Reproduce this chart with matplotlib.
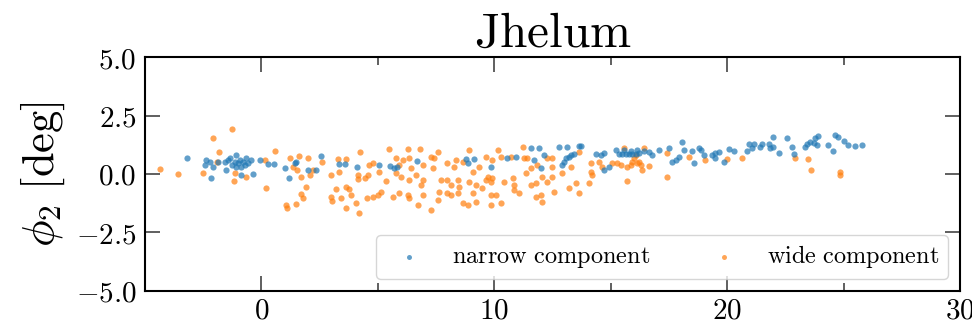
import matplotlib
matplotlib.use("Agg")
import matplotlib.pyplot as plt
from matplotlib.ticker import MultipleLocator

plt.rcParams['mathtext.fontset'] = 'cm'

narrow_x = [-3.21, -2.36, -2.43, -2.21, -2.07, -2.14, -1.86, -1.57, -1.43, -1.50, -1.36, -1.28, -1.14,
            -1.07, -1.07, -1.00, -0.93, -0.86, -0.78, -0.71, -0.64, -0.57, -0.43, -0.36, -0.86, -0.07,
            0.29, 0.54, 1.03, 1.17, 1.43, 1.50, 2.00, 2.36, 2.54, 3.35, 3.57, 4.11, 5.07,
            5.52, 5.71, 5.81, 6.67, 8.78, 8.85, 9.14, 9.85,
            10.56, 10.92, 11.56, 11.92, 11.71, 12.13, 11.99, 12.78, 13.13, 13.63, 12.92, 12.99, 13.20,
            13.28, 13.42, 13.06, 13.70, 14.35, 14.70, 14.56, 14.70, 14.92,
            15.21, 15.35, 15.49, 15.64, 15.78, 15.92, 16.06, 16.21, 15.56, 15.85, 16.14, 16.42,
            16.64, 16.78, 17.06, 17.49, 17.63, 17.78, 17.92, 18.06, 18.13, 18.49, 18.56, 18.78, 18.85,
            18.99, 19.35, 19.49, 19.63, 19.49, 19.85,
            20.06, 20.27, 20.91, 20.84, 21.06, 21.13, 21.41, 21.48, 21.77, 21.84, 21.98, 21.98, 22.20,
            22.56, 22.77, 22.84, 23.34, 23.41, 23.55, 23.70, 23.77, 23.91, 23.84, 24.34, 24.55, 24.62,
            24.77, 24.99, 25.17, 25.46, 25.80]
narrow_y = [0.67, 0.60, 0.38, 0.53, 0.31, -0.18, 0.53, 0.53, 0.60, 0.17, 0.67, 0.38, 0.53,
            0.81, 0.31, 0.46, 0.60, 0.31, 0.53, 0.38, 0.67, 0.46, 0.60, -0.01, -0.04, 0.60,
            0.41, 0.41, 0.24, -0.16, 0.46, 0.53, 0.17, 0.17, 0.78, 0.41, 0.41, 0.29, 0.38,
            0.36, 0.27, 0.31, 0.56, 0.64, 0.46, 0.63, 0.31,
            0.67, 0.74, 1.10, 1.10, 0.60, 0.81, 0.24, 1.17, 1.17, 1.21, 0.38, 0.53, 0.74,
            0.81, 0.84, 0.67, 1.21, 0.84, 0.88, 0.81, 0.17, 0.31,
            1.03, 0.84, 0.84, 0.84, 0.84, 0.84, 0.84, 0.88, 1.03, 0.98, 1.03, 0.98,
            0.95, 0.81, 1.03, 1.12, 0.53, 0.60, 0.74, 1.35, 1.03, 0.98, 0.46, 1.12, 1.03,
            0.81, 0.81, 0.88, 0.95, 0.67, 0.53,
            1.07, 0.98, 1.27, 0.98, 1.10, 1.27, 1.17, 1.27, 1.27, 1.10, 1.59, 1.17, 0.88,
            1.52, 1.17, 0.84, 1.17, 1.27, 1.38, 1.31, 1.52, 1.64, 1.24, 1.24, 0.98, 1.67,
            1.59, 1.41, 1.24, 1.20, 1.24]

wide_x = [-4.33, -3.57, -2.50, -2.07, -1.81, -1.90, -1.24, -1.14, -1.19, -0.64, 0.14, 0.21,
          0.60, 1.21, 1.36, 1.60, 2.00, 1.54, 1.71, 2.07, 2.21, 2.60, 1.93, 1.71, 1.78, 1.07, 1.11,
          1.50, 2.97, 3.28, 3.35, 3.64, 3.21, 3.40, 3.00, 3.03, 3.64, 3.85, 3.78, 3.64, 4.07, 4.21,
          4.25, 4.14, 4.14, 4.43, 4.57, 4.64, 4.78, 4.54, 4.78, 5.00, 5.14, 5.07,
          5.47, 6.28, 6.81, 7.57, 5.78, 5.92, 6.07, 6.35, 6.42, 6.92, 7.28, 7.42, 7.35, 5.35, 5.78,
          5.99, 6.35, 6.64, 6.92, 6.85, 5.64, 5.92, 6.28, 6.35, 6.71, 6.92, 7.28, 7.57, 7.64, 7.71,
          7.99, 8.14, 8.42, 8.49, 8.42, 7.99, 8.35, 8.28, 8.92, 8.64, 9.07, 9.35, 9.64, 9.71, 8.92,
          9.21, 9.49, 9.64, 9.92, 8.64, 8.85, 9.21, 9.85, 9.07, 7.99, 8.14,
          10.14, 9.92, 10.28, 10.71, 11.21, 11.28, 11.42, 11.56, 11.85, 12.28, 12.49, 12.49, 12.92,
          13.28, 13.63, 14.13, 14.13, 14.49, 14.63, 9.85, 10.42, 10.78, 10.85, 11.35, 11.56, 11.78,
          12.06, 12.28, 12.49, 9.85, 10.06, 10.28, 10.85, 11.06, 11.78, 11.99, 12.06, 12.56, 13.20,
          13.49, 13.63, 14.06, 14.20,
          15.07, 15.28, 15.42, 15.56, 15.71, 15.85, 15.92, 15.99, 16.06, 16.14, 16.21, 16.28, 16.35,
          16.42, 16.64, 15.71, 17.42, 17.42, 18.35, 19.06,
          19.99, 20.63, 22.91, 23.48, 23.58, 24.84, 24.84]
wide_y = [0.21, -0.01, 0.03, 1.53, 0.93, 0.53, 1.92, 0.03, -0.29, -0.11, 0.60, -0.61,
          0.99, 0.67, 0.31, 0.78, 0.67, 0.17, -0.11, -0.04, 0.17, 0.53, -0.54, -0.85, -1.04, -1.32, -1.44,
          -1.29, -0.04, 0.64, 0.10, 0.64, -0.64, -1.01, -0.97, -1.15, -0.54, -0.90, -0.64, -1.44, -1.25, -1.68,
          0.93, -0.04, -0.21, -0.16, -0.04, 0.38, 0.46, -1.04, -0.97, -0.90, -0.76, 0.10,
          1.05, 1.05, 1.05, 0.95, 0.67, 0.38, 0.60, 0.67, 0.24, 0.38, 0.74, 0.67, 0.24, -0.30, 0.03,
          -0.11, -0.26, -0.04, -0.26, -0.47, -0.97, -0.83, -0.90, -1.04, -1.32, -0.90, -1.54, -1.11, -0.76, -0.26,
          -0.26, -0.47, -0.26, -0.54, -0.83, 0.46, 0.60, 0.31, 1.03, 0.53, 0.10, 0.31, 0.74, -0.11, -0.33,
          -0.47, -0.61, -0.26, -0.19, -1.25, -1.32, -1.21, -1.32, -0.83, -0.83, -0.90,
          1.03, 0.60, 0.74, 0.74, 1.17, 0.67, 0.67, 0.24, 0.38, 0.67, 0.31, 0.67, 0.03,
          0.31, 0.95, 0.46, 0.10, 0.53, 0.31, -0.33, -0.33, -0.19, -0.47, 0.03, -0.47, -0.40,
          -0.11, -0.33, -0.11, -0.90, -0.90, -1.25, -0.68, -0.83, -0.97, -0.90, -1.18, -0.76, -0.59,
          -0.40, -0.83, -0.40, -0.04,
          0.46, 0.46, 0.38, 1.12, 0.31, 0.38, 0.53, 0.67, 0.81, 0.46, 0.53, 0.38, 0.17,
          1.12, 0.36, -0.30, 0.88, -0.11, 0.74, 0.60,
          0.63, 0.67, 0.70, 0.63, 0.17, 0.10, -0.04]

xtick_vals = [0, 10, 20, 30]
xtick_labels = [r'$0$', r'$10$', r'$20$', r'$30$']
ytick_vals = [-5.0, -2.5, 0.0, 2.5, 5.0]
ytick_labels = [r'$-5.0$', r'$-2.5$', r'$0.0$', r'$2.5$', r'$5.0$']

fig = plt.figure(figsize=(9.72, 3.24), dpi=100)
ax = fig.add_axes([0.149, 0.102, 0.839, 0.722])

ax.scatter(narrow_x, narrow_y, s=20, color='#1f77b4', alpha=0.7, linewidths=0,
           label=r'$\mathrm{narrow\ component}$', zorder=3)
ax.scatter(wide_x, wide_y, s=20, color='#ff7f0e', alpha=0.7, linewidths=0,
           label=r'$\mathrm{wide\ component}$', zorder=2)

ax.set_xlim(-5, 30)
ax.set_ylim(-5, 5)
ax.set_xticks(xtick_vals, xtick_labels)
ax.set_yticks(ytick_vals, ytick_labels)
ax.xaxis.set_minor_locator(MultipleLocator(5))

ax.tick_params(which='both', direction='in', top=True, right=True, labelsize=21, width=1.2,
               color='#444444')
ax.tick_params(which='major', length=11, pad=6)
ax.tick_params(which='minor', length=6)
ax.tick_params(axis='x', pad=4)
for sp in ax.spines.values():
    sp.set_linewidth(1.5)

ax.set_title(r'$\mathrm{Jhelum}$', fontsize=35.5, pad=5)
ax.set_ylabel(r'$\phi_2\ [\mathrm{deg}]$', fontsize=32, labelpad=6)

ax.legend(loc='lower right', ncol=2, fontsize=17.5, markerscale=0.8, scatterpoints=1,
          columnspacing=2.0, handletextpad=0.8, borderpad=0.35)

fig.savefig('out.png', dpi=100)
